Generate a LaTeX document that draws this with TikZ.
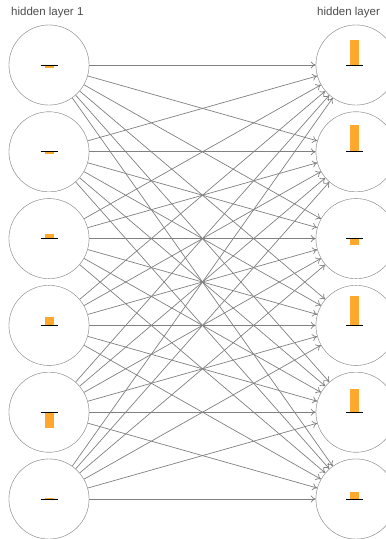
\documentclass[tikz,border=0pt]{standalone}
\usepackage{fontspec}
\setmainfont{Liberation Sans}
\usetikzlibrary{arrows.meta}
\definecolor{ringgray}{HTML}{959595}
\definecolor{linkgray}{HTML}{808080}
\definecolor{barorange}{HTML}{FFA82E}
\tikzset{
	unit/.style={circle, draw=ringgray, fill=white, minimum size=80pt, inner sep=0pt},
	link/.style={draw=linkgray, line width=0.7pt, -{To[length=5pt, width=7pt]}},
	layertitle/.style={text=black!70, font=\fontsize{11.5}{13}\selectfont, inner sep=0pt}
}
\begin{document}
\begin{tikzpicture}[x=1pt, y=-1pt]
		\useasboundingbox (0, 0) rectangle (386, 539);
		\clip (0, 0) rectangle (386, 539);
		\node[layertitle, anchor=west] (title1) at (11, 13) {hidden layer 1};
		\node[layertitle, anchor=west] (title2) at (317, 13) {hidden layer};
		% units of both layers
		\foreach \i in {1, 2, ..., 6}{
			\node[unit] (l\i) at (49, 65 + 86.8*\i - 86.8) {};
			\node[unit] (r\i) at (356, 65 + 86.8*\i - 86.8) {};
		}
		% every left unit feeds every right unit
		\foreach \i in {1, 2, ..., 6}{
			\foreach \j in {1, 2, ..., 6}{
				\draw[link] (l\i) -- (r\j);
			}
		}
		\foreach \i in {1, 2, ..., 6}{
			\node[unit] at (l\i) {};
			\node[unit] at (r\i) {};
		}
		% activation bars
		\foreach \i/\h in {1/-3, 2/-2, 3/5, 4/8, 5/-16, 6/1.5}{
			\fill[barorange] (44.5, 65 + 86.8*\i - 86.8) rectangle (53.5, 65 + 86.8*\i - 86.8 - \h);
			\draw[black, line width=0.8pt] (40.5, 65 + 86.8*\i - 86.8) -- (57.5, 65 + 86.8*\i - 86.8);
		}
		\foreach \i/\h in {1/25, 2/27, 3/-6, 4/29, 5/23, 6/7}{
			\fill[barorange] (350, 65 + 86.8*\i - 86.8) rectangle (359, 65 + 86.8*\i - 86.8 - \h);
			\draw[black, line width=0.8pt] (346, 65 + 86.8*\i - 86.8) -- (363, 65 + 86.8*\i - 86.8);
		}
	\end{tikzpicture}
\end{document}
